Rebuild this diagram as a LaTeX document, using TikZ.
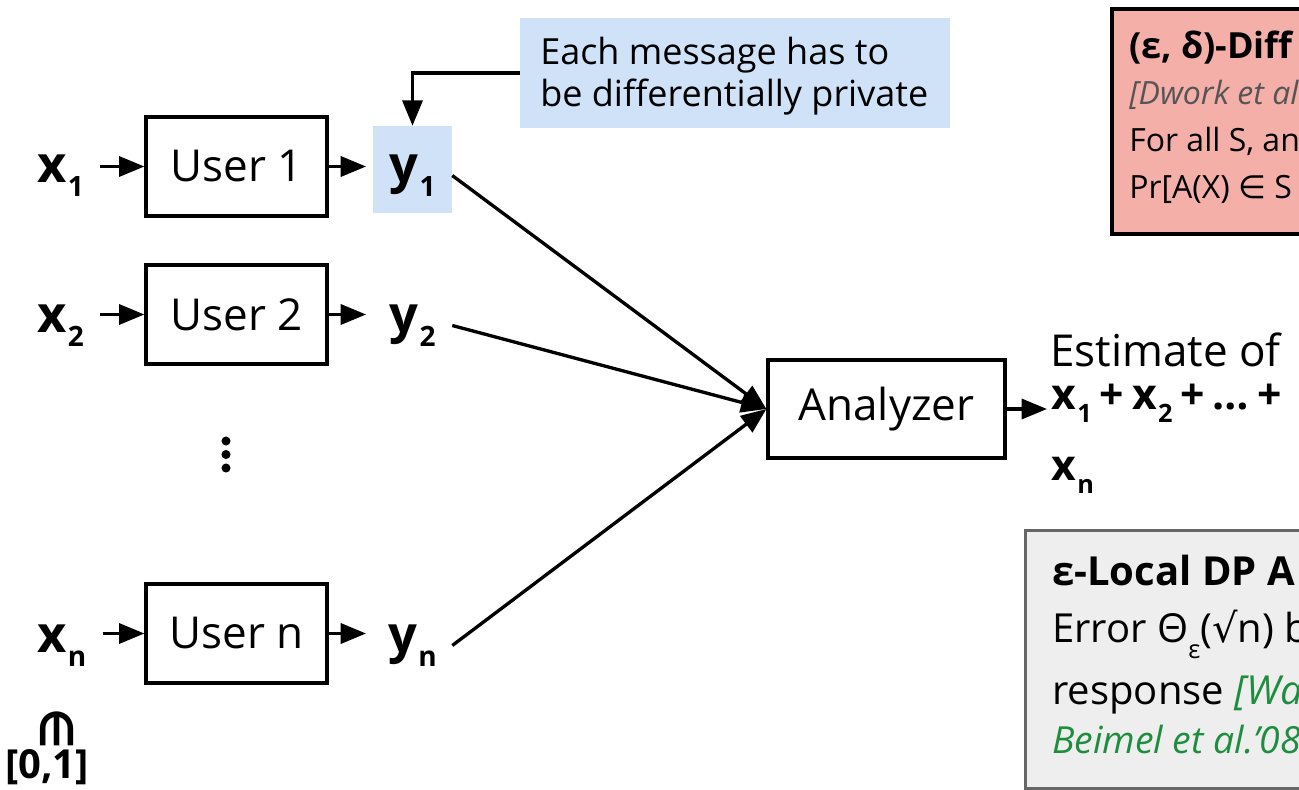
\documentclass[tikz,border=0pt]{standalone}
\usepackage{fontspec}
\setmainfont{Open Sans}
\newfontfamily\symfont{DejaVu Sans}
\usetikzlibrary{arrows.meta}

\definecolor{calloutblue}{HTML}{CFE2F8}
\definecolor{defred}{HTML}{F4AFA9}
\definecolor{ldpfill}{HTML}{EEEEEE}
\definecolor{ldpedge}{HTML}{666666}
\definecolor{citegray}{HTML}{555555}
\definecolor{citegreen}{HTML}{1E8E3E}

\newcommand\fsz[1]{\fontsize{#1pt}{#1pt}\selectfont}
% bold variable with a large, strongly lowered subscript
\newcommand\var[2]{\textbf{#1}\kern1pt\raisebox{-11pt}{\fsz{21}\textbf{#2}}}
\newcommand\svar[2]{\textbf{#1}\kern1pt\raisebox{-10pt}{\fsz{19}\textbf{#2}}}
\newcommand\gap{\kern6pt}

\begin{document}
\begin{tikzpicture}[x=0.75pt,y=-0.75pt,
  userbox/.style={draw, line width=2.4pt, inner sep=0, fill=white,
    minimum width=135.75pt, minimum height=74.25pt, font=\fsz{33}},
  lbl/.style={inner sep=0, font=\fsz{38}},
  ylbl/.style={inner sep=0, font=\fsz{38}, minimum width=59.25pt, anchor=base},
  txt/.style={inner sep=0, anchor=base west},
  arr/.style={-{Triangle[length=19pt,width=15pt]}, line width=2.5pt}
]
\useasboundingbox (0,0) rectangle (1299,789);
\clip (0,0) rectangle (1299,789);

% users
\node[userbox] (u1) at (236.5,166.5) {User 1};
\node[userbox] (u2) at (236.5,314.5) {User 2};
\node[userbox] (un) at (236.5,633.5) {User n};

% inputs
\node[lbl, anchor=base west] (x1) at (37,182) {\var{x}{1}};
\node[lbl, anchor=base west] (x2) at (37,332) {\var{x}{2}};
\node[lbl, anchor=base west] (xn) at (37,652) {\var{x}{n}};

% highlighted message and outputs
\node[fill=calloutblue, inner sep=0, minimum width=59.25pt, minimum height=65.25pt] (hl) at (412.5,169.5) {};
\node[ylbl] (y1) at (412.5,182) {\var{y}{1}};
\node[ylbl] (y2) at (412.5,332) {\var{y}{2}};
\node[ylbl] (yn) at (412.5,652) {\var{y}{n}};

\foreach \i in {1,2,n}{
  \draw[arr, shorten <=12pt] (x\i.east |- u\i.west) -- (u\i.west);
  \draw[arr, shorten >=5pt] (u\i.east) -- (y\i.west |- u\i.east);
}

% vertical ellipsis
\fill (226,441) circle (3.4pt);
\fill (226,454.5) circle (3.4pt);
\fill (226,468) circle (3.4pt);

% domain of each input
\node[inner sep=0, rotate=-90, font=\symfont\bfseries\fsz{34}] (inset) at (57,729) {∈};
\node[inner sep=0, font=\bfseries\fsz{30}] (unit) at (47,767) {[0,1]};

% analyzer
\node[userbox, minimum width=177.75pt, minimum height=73.5pt] (an) at (886.5,409) {Analyzer};
\draw[arr] (y1.east) -- (an.west);
\draw[arr] (y2.east) -- (an.west);
\draw[arr] (yn.east) -- (an.west);

% estimate
\node[txt, font=\fsz{33}] (est) at (1050,366) {Estimate of};
\node[txt, font=\fsz{32}] (sum) at (1051,409) {\svar{x}{1}\gap\textbf{+}\gap\svar{x}{2}\gap\textbf{+\gap…\gap+}};
\node[txt, font=\fsz{32}] (sumn) at (1051,480) {\svar{x}{n}};
\draw[arr, shorten >=3pt] (an.east) -- (sum.west |- an.east);

% callout
\node[fill=calloutblue, inner sep=0, minimum width=322.5pt, minimum height=82.5pt] (co) at (735,73) {};
\node[txt, font=\fsz{27}] (co1) at (540,64) {Each message has to};
\node[txt, font=\fsz{27}] (co2) at (540,106) {be differentially private};
\draw[arr] (co.west) -| (hl.north);

% (eps, delta)-DP definition
\node[draw, line width=3pt, fill=defred, inner sep=0, anchor=north west,
  minimum width=200pt, minimum height=168.75pt] (dp) at (1110,7) {};
\node[txt, font=\bfseries\fsz{27}] (dp1) at (1129,58) {(ε, δ)-Diff};
\node[txt, font=\itshape\fsz{24}, text=citegray] (dp2) at (1129,104) {[Dwork et al};
\node[txt, font=\fsz{24}] (dp3) at (1129,151) {For all S, an};
\node[txt, font=\fsz{24}] (dp4) at (1129,198) {Pr[A(X) {\symfont ∈} S};

% local DP box
\node[draw=ldpedge, line width=2.25pt, fill=ldpfill, inner sep=0, anchor=north west,
  minimum width=250pt, minimum height=193.5pt] (ldp) at (1024,529) {};
\node[txt, font=\bfseries\fsz{30}] (ldp1) at (1052,585) {ε-Local DP A};
\node[txt, font=\fsz{30}] (ldp2) at (1052,642) {Error Θ\raisebox{-12pt}{\fsz{19}ε}({\symfont √}n) b};
\node[txt, font=\fsz{30}] (ldp3) at (1052,704) {response \textcolor{citegreen}{\itshape [Wa}};
\node[txt, font=\itshape\fsz{28}, text=citegreen] (ldp4) at (1052,753) {Beimel et al.’08};
\end{tikzpicture}
\end{document}
